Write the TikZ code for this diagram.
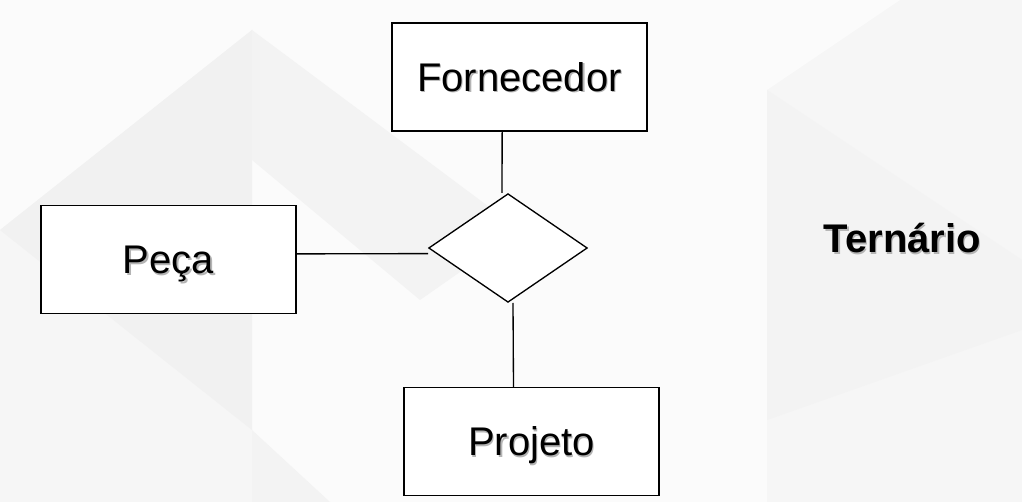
\documentclass[tikz,border=0pt]{standalone}
\usepackage{fontspec}
\setmainfont{Liberation Sans}
\usetikzlibrary{shapes.geometric}
\definecolor{bgA}{HTML}{F6F6F6}
\definecolor{bgB}{HTML}{FBFBFB}
\definecolor{bgC}{HTML}{F1F1F1}
\definecolor{bgD}{HTML}{F3F3F3}
\definecolor{shade}{HTML}{B4B4B4}
\newcommand\shadtext[1]{\makebox[0pt][l]{\hspace{0.9pt}\raisebox{-0.9pt}{\textcolor{shade}{#1}}}#1}
\tikzset{
  entity/.style={draw=black, line width=1pt, fill=white, rectangle, inner sep=0pt,
    minimum width=191.25pt, minimum height=81pt, font=\fontsize{30}{36}\selectfont,
    text height=21.5pt, text depth=0pt},
  relbox/.style={draw=black, line width=1pt, fill=white, diamond, inner sep=0pt,
    minimum width=119pt, minimum height=81.5pt},
  conn/.style={draw=black, line width=1pt},
  title/.style={font=\fontsize{30}{36}\selectfont\bfseries, anchor=base, inner sep=0pt}
}
\begin{document}
\begin{tikzpicture}[x=0.75pt, y=-0.75pt]
  % background
  \fill[bgA] (0,0) rectangle (1022,502);
  \useasboundingbox (0,0) rectangle (1022,502);
  \fill[bgB] (252,0) rectangle (767,502);
  \fill[bgB] (0,0) -- (252,0) -- (252,30) -- (0,230) -- cycle;
  \fill[bgC] (0,230) -- (252,30) -- (252,430) -- cycle;
  \fill[bgD] (252,30) -- (252,160) -- (420,300) -- (520,230) -- cycle;
  \fill[bgD] (252,430) -- (252,502) -- (330,502) -- cycle;
  \fill[bgB] (767,0) -- (900,0) -- (767,90) -- cycle;
  \fill[bgD] (767,90) -- (1022,260) -- (1022,330) -- (767,420) -- cycle;

  % nodes
  \node[entity] (forn) at (519.5,77) {\shadtext{Fornecedor}};
  \node[entity] (peca) at (168.5,259.5) {\shadtext{Peça}};
  \node[entity] (proj) at (531.5,441.5) {\shadtext{Projeto}};
  \node[relbox] (rel) at (508,248) {};
  \node[title] (tern) at (902.5,253) {\shadtext{Ternário}};

  % connectors
  \draw[conn] ([xshift=-13pt]forn.south) -- ([xshift=-4.5pt]rel.north);
  \draw[conn] ([yshift=4.2pt]peca.east) -- ([yshift=-4.2pt]rel.west);
  \draw[conn] ([xshift=3.75pt]rel.south) -- ([xshift=-13.5pt]proj.north);
\end{tikzpicture}
\end{document}
